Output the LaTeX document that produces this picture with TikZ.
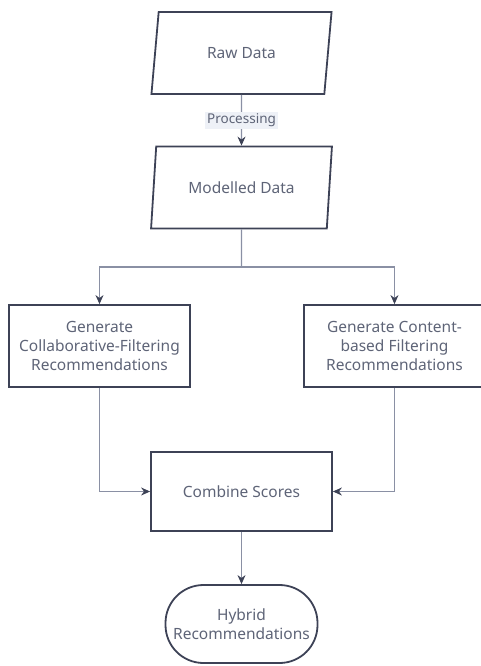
\documentclass[tikz,border=0pt]{standalone}
\usepackage{fontspec}
\setmainfont{Noto Sans}
\usetikzlibrary{shapes.geometric,arrows.meta}

\definecolor{edgeC}{HTML}{3D4256}
\definecolor{lineC}{HTML}{8A90A4}
\definecolor{textC}{HTML}{5E6477}
\definecolor{tagC}{HTML}{EEF1F7}

\begin{document}
\begin{tikzpicture}[x=1pt,y=-1pt,
   every node/.style={text=textC,font=\fontsize{15.5}{19}\selectfont,align=center},
   iobox/.style={draw=edgeC,line width=1.8pt,trapezium,trapezium left angle=75,
      trapezium right angle=105,trapezium stretches=true,
      minimum width=181pt,minimum height=82pt,inner sep=0pt},
   procbox/.style={draw=edgeC,line width=1.8pt,rectangle,
      minimum width=181pt,minimum height=82pt,inner sep=0pt},
   endbox/.style={draw=edgeC,line width=1.8pt,rectangle,rounded corners=38pt,
      minimum width=152pt,minimum height=78pt,inner sep=0pt},
   tag/.style={fill=tagC,font=\fontsize{13.5}{15}\selectfont,inner sep=2pt},
   flow/.style={draw=lineC,line width=1.1pt,
      -{Stealth[length=9pt,width=8pt,color=edgeC]}}]
\useasboundingbox (0,0) rectangle (480,666);

\node[iobox] (raw) at (241.5,53) {Raw Data};
\node[iobox] (model) at (241.5,187.5) {Modelled Data};
\node[procbox] (cf) at (99.5,346)
   {Generate\\Collaborative-Filtering\\Recommendations};
\node[procbox] (cb) at (394.5,346)
   {Generate Content-\\based Filtering\\Recommendations};
\node[procbox,minimum height=79pt] (comb) at (241.5,491.5) {Combine Scores};
\node[endbox] (hyb) at (241.5,624) {Hybrid\\Recommendations};
\coordinate (split) at (241.5,267);

% edges
\draw[flow] (raw) -- node[tag] {Processing} (model);
\draw[draw=lineC,line width=1.1pt] (model.south) -- (split);
\draw[flow] (split) -| (cf.north);
\draw[flow] (split) -| (cb.north);
\draw[flow] (cf.south) |- (comb.west);
\draw[flow] (cb.south) |- (comb.east);
\draw[flow] (comb) -- (hyb);
\end{tikzpicture}
\end{document}
